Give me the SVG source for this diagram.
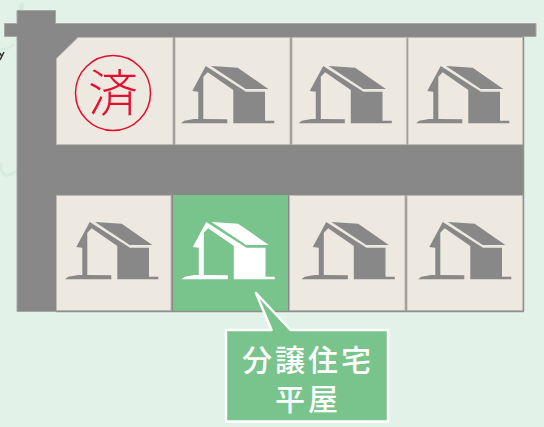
<svg xmlns="http://www.w3.org/2000/svg" width="544" height="427" viewBox="0 0 544 427">
<style>
.cell{fill:#ede8e0;stroke:#bdbbb4;stroke-width:1}
.h{fill:#888888}
.w{fill:#ffffff}
.lbl{font-family:"Noto Sans CJK JP","Noto Sans",sans-serif;font-size:30px;font-weight:500;fill:#ffffff;text-anchor:middle;letter-spacing:3px}
</style>
<defs>
<g id="house">
<path d="M205.7 66 L192.3 91 L198.300 91.700 L198.300 119 L194 119 L184.300 120.700 L181 123.300 L227.300 123.300 L227.300 119.300 L203.300 119 L203.300 76.700 L207.700 72.300 L233.300 90 L233.300 123.300 L274.300 123.300 L274.300 120.700 L265 120.700 L265 91.700 L246 91.700 Z"/>
<path d="M211 66 L237.700 67.700 L268.300 89 L245.700 89 Z"/>
</g>
</defs>
<rect width="544" height="427" fill="#e3f2e8"/>
<g id="background" fill="none" stroke="#d5ebdc" stroke-linecap="round">
<path d="M22 5 Q20 10 22 14" stroke-width="5"/>
<path d="M0 49 Q8 50 14 44" stroke-width="2"/>
<path d="M1 164 Q0 172 5 175 Q10 176 15 172" stroke-width="3"/>
</g>
<path d="M0 60 L4 52 M0 53 L2 57" fill="none" stroke="#333" stroke-width="1.500"/>
<g id="road">
<path d="M17 10.500 H55.500 V23.500 H536 V36.500 H523.500 V311.500 H17 V36.500 H4.500 V23.500 H17 Z" fill="#888888" stroke="#a6a6a2" stroke-width="1"/>
</g>
<g id="lot-sold">
<path class="cell" d="M56.500 58.500 L78 37.500 H173 V144.500 H56.500 Z"/>
<circle cx="113" cy="93" r="37.500" fill="none" stroke="#e60d2e" stroke-width="1.500"/>
<text x="113" y="111" font-family="'Noto Sans CJK JP',sans-serif" font-size="50" font-weight="300" fill="#e60d2e" text-anchor="middle">済</text>
</g>
<g id="lot-t2">
<rect class="cell" x="175" y="37.500" width="115" height="107"/>
<use href="#house" class="h"/>
</g>
<g id="lot-t3">
<rect class="cell" x="292" y="37.500" width="114.500" height="107"/>
<use href="#house" class="h" x="117.500"/>
</g>
<g id="lot-t4">
<rect class="cell" x="408" y="37.500" width="115" height="107"/>
<use href="#house" class="h" x="235"/>
</g>
<g id="lot-b1">
<rect class="cell" x="56.500" y="195.500" width="114.500" height="115"/>
<use href="#house" class="h" x="-116" y="156"/>
</g>
<g id="lot-b2">
<rect x="173" y="195" width="115" height="116" fill="#79c48c"/>
<use href="#house" class="w" x="0.500" y="156"/>
</g>
<g id="lot-b3">
<rect class="cell" x="289.500" y="195.500" width="115.500" height="115"/>
<use href="#house" class="h" x="120.500" y="156"/>
</g>
<g id="lot-b4">
<rect class="cell" x="407" y="195.500" width="116" height="115"/>
<use href="#house" class="h" x="237" y="156"/>
</g>
<path id="edge" d="M56 311.500 H524 M523.500 37 V311" fill="none" stroke="#908f8b" stroke-width="1.500"/>
<g id="callout">
<path d="M226 330 H271.500 L256 293 L290.500 330 H388 V421.500 H226 Z" fill="#79c48c" stroke="#ffffff" stroke-width="2.500" stroke-linejoin="round"/>
<text class="lbl"><tspan x="308" y="371">分譲住宅</tspan><tspan x="308" y="410">平屋</tspan></text>
</g>
</svg>
